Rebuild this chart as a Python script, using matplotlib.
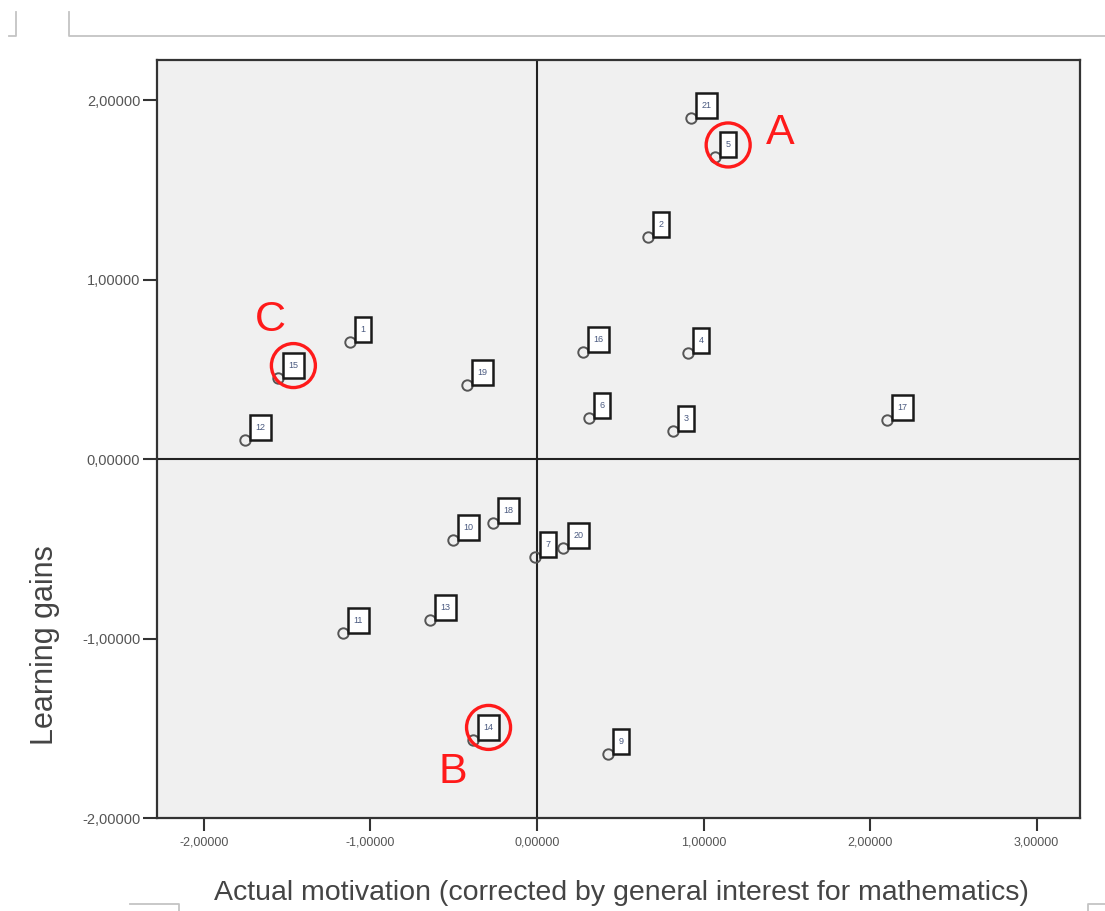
import matplotlib
matplotlib.use("Agg")
import matplotlib.pyplot as plt
import matplotlib.transforms as mtransforms
from matplotlib.patches import Rectangle, Circle
from matplotlib.lines import Line2D

# case number, x = actual motivation, y = learning gains
case_ids = [21, 5, 2, 1, 15, 19, 12, 16, 4, 6, 3, 17, 10, 18, 7, 20, 13, 11, 14, 9]
motivation = [0.925, 1.07, 0.667, -1.123, -1.556, -0.42, -1.754, 0.276, 0.907, 0.312,
              0.817, 2.10, -0.505, -0.264, -0.012, 0.156, -0.643, -1.165, -0.384, 0.426]
gains = [1.90, 1.68, 1.237, 0.652, 0.451, 0.412, 0.106, 0.596, 0.59, 0.228,
         0.156, 0.217, -0.451, -0.357, -0.546, -0.494, -0.897, -0.969, -1.565, -1.643]

# highlighted cases and their letter
highlight = {5: "A", 14: "B", 15: "C"}
letter_offset = {"A": (65, 24), "B": (-20, -32), "C": (-8, 58)}  # pixels from point

x_ticks = [-2, -1, 0, 1, 2, 3]
y_ticks = [-2, -1, 0, 1, 2]

TICK_COLOR = "#555555"
FRAME_COLOR = "#333333"
DECO_COLOR = "#c4c4c4"
RED = "#ff1a1a"

plt.rcParams["font.family"] = ["Liberation Sans", "DejaVu Sans"]

W, H = 1105, 911
fig = plt.figure(figsize=(W / 100, H / 100), dpi=100)
ax = fig.add_axes([157 / W, 1 - 818 / H, (1080 - 157) / W, (818 - 60) / H])
ax.set_facecolor("#f0f0f0")
ax.set_xlim(-2.282, 3.261)
ax.set_ylim(-2.0, 2.223)

for s in ax.spines.values():
    s.set_color(FRAME_COLOR)
    s.set_linewidth(1.6)

ax.axvline(0, color="#222222", lw=1.5, zorder=1)
ax.axhline(0, color="#222222", lw=1.5, zorder=1)

ax.set_xticks(x_ticks)
ax.set_yticks(y_ticks)
ax.set_xticklabels([f"{v:.5f}".replace(".", ",") for v in x_ticks])
ax.set_yticklabels([f"{v:.5f}".replace(".", ",") for v in y_ticks])
ax.tick_params(axis="both", direction="out", color=FRAME_COLOR, width=1.5,
               labelcolor=TICK_COLOR)
ax.tick_params(axis="x", length=9, labelsize=9, pad=4)
ax.tick_params(axis="y", length=10, labelsize=10.5, pad=2)

ax.plot(motivation, gains, "o", ms=7.5, mfc="none", mec="#555555", mew=1.4,
        zorder=3, clip_on=False)

for cid, x, y in zip(case_ids, motivation, gains):
    # inch-based offsets anchored at the data point
    trans = fig.dpi_scale_trans + mtransforms.ScaledTranslation(x, y, ax.transData)
    w = 0.16 if cid < 10 else 0.21
    ax.add_patch(Rectangle((0.05, 0.0), w, 0.25, transform=trans, facecolor="white",
                           edgecolor="#1a1a1a", lw=1.8, zorder=4))
    ax.text(0.05 + w / 2, 0.125, str(cid), transform=trans, ha="center", va="center",
            fontsize=6.5, color="#4a5a80", zorder=5)
    if cid in highlight:
        ax.add_patch(Circle((0.05 + w / 2, 0.125), 0.22, transform=trans,
                            facecolor="none", edgecolor=RED, lw=2.4, zorder=6))
        letter = highlight[cid]
        ax.annotate(letter, (x, y), xytext=letter_offset[letter],
                    textcoords="offset pixels", ha="center", va="center",
                    fontsize=31, color=RED, zorder=6)

fig.text(621 / W, 1 - 893 / H,
         "Actual motivation (corrected by general interest for mathematics)",
         ha="center", va="center", fontsize=20.5, color="#444444")
fig.text(45 / W, 1 - 645 / H, "Learning gains", rotation=90, ha="center",
         va="center", fontsize=22, color="#444444")

# page decoration lines around the chart
def deco(xs, ys):
    fig.add_artist(Line2D([v / W for v in xs], [1 - v / H for v in ys],
                          color=DECO_COLOR, lw=1.3))

deco([9, 16, 16], [36, 36, 12])
deco([69, 69, W], [12, 36, 36])
deco([130, 179, 179], [904, 904, H])
deco([W, 1088, 1088], [904, 904, H])

fig.savefig("out.png", dpi=100)
